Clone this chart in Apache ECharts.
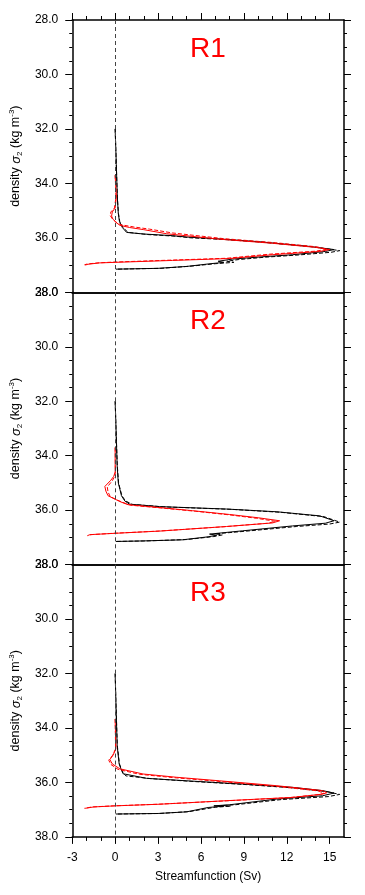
<!DOCTYPE html>
<html><head><meta charset="utf-8">
<script src="https://cdn.jsdelivr.net/npm/echarts@6/dist/echarts.min.js"></script>
<style>html,body{margin:0;padding:0;background:#fff}#c{width:365px;height:895px}</style>
</head><body><div id="c"></div>
<script>
// ---------- data ----------
const panelNames = ['R1', 'R2', 'R3'];
const xTickLabels = [-3, 0, 3, 6, 9, 12, 15];
const xMinorTicks = [-2, -1, 1, 2, 4, 5, 7, 8, 10, 11, 13, 14];
const yTickLabels = [28, 30, 32, 34, 36, 38];

// R1
const r1BlackSolidDens = [32.0, 33.3, 34.5, 35.1, 35.4, 35.62, 35.8, 35.86, 35.92, 35.97, 36.04, 36.14, 36.31, 36.43, 36.5, 36.62, 36.7, 36.78, 36.86, 36.9, 36.96, 37.05, 37.12, 37.15];
const r1BlackSolidSf   = [0.0, 0.08, 0.15, 0.22, 0.3, 0.5, 0.8, 2.0, 4.0, 5.0, 7.3, 10.0, 13.5, 15.3, 14.7, 12.4, 10.2, 8.2, 7.2, 7.6, 6.5, 5.0, 3.0, 0.05];
const r1BlackDashDens  = [32.0, 33.3, 34.5, 35.1, 35.4, 35.62, 35.8, 35.88, 35.94, 36.0, 36.06, 36.16, 36.33, 36.47, 36.53, 36.63, 36.71, 36.8, 36.86, 36.9, 36.95, 37.04, 37.12, 37.15];
const r1BlackDashSf    = [0.0, 0.08, 0.15, 0.23, 0.32, 0.55, 0.9, 2.3, 4.2, 5.3, 7.6, 10.3, 13.8, 15.7, 15.1, 12.8, 10.5, 8.6, 7.8, 8.3, 7.0, 5.3, 3.2, 0.05];
const r1RedSolidDens   = [33.7, 34.5, 34.9, 35.05, 35.2, 35.32, 35.45, 35.54, 35.62, 35.7, 35.85, 36.05, 36.2, 36.35, 36.43, 36.5, 36.62, 36.76, 36.83, 36.9, 36.92, 36.97, 37.0];
const r1RedSolidSf     = [0.0, 0.08, 0.0, -0.2, -0.25, -0.15, 0.1, 0.33, 1.0, 2.0, 3.6, 7.3, 11.0, 14.0, 15.0, 14.3, 11.0, 8.0, 4.0, 0.0, -1.1, -1.9, -2.1];
const r1RedDashDens    = [33.7, 34.5, 34.9, 35.05, 35.18, 35.3, 35.42, 35.52, 35.6, 35.68, 35.82, 36.03, 36.18, 36.33, 36.42, 36.49, 36.6, 36.75, 36.82, 36.89, 36.92, 36.96, 36.99];
const r1RedDashSf      = [0.0, 0.06, -0.05, -0.3, -0.35, -0.2, 0.05, 0.4, 1.3, 2.4, 4.0, 7.6, 11.2, 14.1, 14.8, 14.0, 10.8, 7.8, 3.8, -0.1, -1.2, -1.95, -2.15];

// R2
const r2BlackSolidDens = [32.0, 33.0, 34.37, 35.0, 35.23, 35.47, 35.66, 35.78, 35.87, 35.96, 36.06, 36.21, 36.39, 36.48, 36.58, 36.76, 36.88, 36.92, 36.98, 37.09, 37.13, 37.15];
const r2BlackSolidSf   = [0.0, 0.06, 0.14, 0.22, 0.33, 0.44, 0.67, 1.0, 3.1, 7.8, 11.3, 14.3, 15.3, 14.7, 12.4, 8.9, 6.6, 7.1, 6.5, 4.7, 2.0, 0.05];
const r2BlackDashDens  = [32.0, 33.0, 34.37, 35.0, 35.23, 35.47, 35.66, 35.79, 35.88, 35.97, 36.08, 36.24, 36.44, 36.51, 36.6, 36.77, 36.87, 36.91, 36.97, 37.08, 37.13, 37.15];
const r2BlackDashSf    = [0.0, 0.06, 0.15, 0.24, 0.35, 0.47, 0.72, 1.2, 3.4, 8.1, 11.6, 14.6, 15.7, 15.0, 12.7, 9.2, 7.0, 7.5, 6.9, 5.0, 2.2, 0.05];
const r2RedSolidDens   = [33.7, 34.6, 34.76, 34.9, 35.13, 35.3, 35.47, 35.6, 35.7, 35.8, 35.9, 36.02, 36.16, 36.28, 36.39, 36.47, 36.6, 36.77, 36.85, 36.9, 36.94];
const r2RedSolidSf     = [0.0, 0.0, -0.1, -0.3, -0.72, -0.65, -0.5, 0.0, 0.4, 0.9, 3.0, 5.4, 8.0, 10.0, 11.5, 11.0, 7.8, 3.1, 0.0, -1.77, -1.95];
const r2RedDashDens    = [33.7, 34.6, 34.78, 34.92, 35.15, 35.33, 35.5, 35.62, 35.72, 35.82, 35.92, 36.04, 36.18, 36.3, 36.41, 36.48, 36.61, 36.77, 36.85, 36.9, 36.94];
const r2RedDashSf      = [0.0, 0.02, -0.05, -0.2, -0.55, -0.5, -0.35, 0.1, 0.55, 1.1, 3.2, 5.6, 8.1, 9.9, 11.2, 10.7, 7.6, 3.0, -0.1, -1.7, -1.9];

// R3
const r3BlackSolidDens = [32.0, 33.0, 34.65, 35.32, 35.5, 35.68, 35.75, 35.85, 35.94, 36.06, 36.18, 36.3, 36.39, 36.49, 36.61, 36.82, 36.86, 36.87, 36.92, 37.08, 37.14, 37.16];
const r3BlackSolidSf   = [0.0, 0.05, 0.14, 0.28, 0.4, 0.55, 0.67, 2.2, 5.0, 8.9, 12.4, 14.5, 15.3, 14.5, 11.3, 8.0, 6.9, 7.6, 6.5, 5.0, 3.0, 0.05];
const r3BlackDashDens  = [32.0, 33.0, 34.65, 35.32, 35.5, 35.68, 35.76, 35.86, 35.96, 36.08, 36.21, 36.34, 36.44, 36.52, 36.63, 36.82, 36.85, 36.87, 36.91, 37.07, 37.14, 37.16];
const r3BlackDashSf    = [0.0, 0.05, 0.15, 0.3, 0.43, 0.6, 0.75, 2.5, 5.3, 9.2, 12.7, 14.8, 15.7, 14.9, 11.6, 8.4, 7.4, 8.1, 7.0, 5.2, 3.1, 0.05];
const r3RedSolidDens   = [33.67, 34.77, 35.0, 35.16, 35.32, 35.5, 35.69, 35.81, 35.94, 36.12, 36.3, 36.38, 36.43, 36.55, 36.67, 36.8, 36.86, 36.9, 36.95];
const r3RedSolidSf     = [0.0, 0.05, -0.15, -0.37, -0.2, 0.33, 1.95, 4.3, 7.3, 11.3, 14.5, 14.8, 14.5, 12.4, 7.8, 3.1, 0.0, -1.5, -2.1];
const r3RedDashDens    = [33.67, 34.77, 35.02, 35.18, 35.34, 35.52, 35.7, 35.82, 35.95, 36.13, 36.31, 36.4, 36.45, 36.56, 36.68, 36.8, 36.86, 36.9, 36.95];
const r3RedDashSf      = [0.0, 0.03, -0.2, -0.45, -0.3, 0.2, 1.7, 4.0, 7.0, 11.0, 14.2, 14.6, 14.2, 12.1, 7.6, 3.0, -0.1, -1.6, -2.15];

const panels = [
  {bs: [r1BlackSolidSf, r1BlackSolidDens], bd: [r1BlackDashSf, r1BlackDashDens], rs: [r1RedSolidSf, r1RedSolidDens], rd: [r1RedDashSf, r1RedDashDens]},
  {bs: [r2BlackSolidSf, r2BlackSolidDens], bd: [r2BlackDashSf, r2BlackDashDens], rs: [r2RedSolidSf, r2RedSolidDens], rd: [r2RedDashSf, r2RedDashDens]},
  {bs: [r3BlackSolidSf, r3BlackSolidDens], bd: [r3BlackDashSf, r3BlackDashDens], rs: [r3RedSolidSf, r3RedSolidDens], rd: [r3RedDashSf, r3RedDashDens]}
];

// ---------- layout ----------
const FONT = "'Liberation Sans', Arial, Helvetica, sans-serif";
const W = 365, LEFT = 72, RIGHT = 21, TOP = 20, PH = 272.3;
const zip = (a, b) => a.map((v, i) => [v, b[i]]);

const grid = [], xAxis = [], yAxis = [], series = [], graphic = [];
const lineAx = {show: true, onZero: false, lineStyle: {color: '#000', width: 1.5}};
const noLine = {show: false, onZero: false};
panelNames.forEach((name, i) => {
  grid.push({left: LEFT, right: RIGHT, top: TOP + i * PH, height: PH});
  const isLast = i === 2, isFirst = i === 0;
  const xMain = xAxis.length;
  xAxis.push({
    gridIndex: i, type: 'value', position: 'bottom', min: -3, max: 16, interval: 3,
    axisLine: lineAx,
    axisTick: {show: isLast, length: 7, customValues: xTickLabels, lineStyle: {color: '#000', width: 1}},
    minorTick: {show: false}, splitLine: {show: false},
    axisLabel: {show: isLast, customValues: xTickLabels, color: '#000', fontSize: 12, fontFamily: FONT, margin: 15},
    name: isLast ? 'Streamfunction (Sv)' : '', nameLocation: 'middle', nameGap: 34,
    nameTextStyle: {color: '#000', fontSize: 12, fontFamily: FONT}
  });
  if (isLast) {
    xAxis.push({gridIndex: i, type: 'value', position: 'bottom', min: -3, max: 16,
      axisLine: noLine, splitLine: {show: false}, axisLabel: {show: false},
      axisTick: {show: true, length: 4, customValues: xMinorTicks, lineStyle: {color: '#000', width: 1}}});
  }
  xAxis.push({
    gridIndex: i, type: 'value', position: 'top', min: -3, max: 16,
    axisLine: lineAx, splitLine: {show: false}, axisLabel: {show: false},
    axisTick: {show: isFirst, length: 7, customValues: xTickLabels, lineStyle: {color: '#000', width: 1}}
  });
  if (isFirst) {
    xAxis.push({gridIndex: i, type: 'value', position: 'top', min: -3, max: 16,
      axisLine: noLine, splitLine: {show: false}, axisLabel: {show: false},
      axisTick: {show: true, length: 4, customValues: xMinorTicks, lineStyle: {color: '#000', width: 1}}});
  }
  const yMain = yAxis.length;
  const yCommon = {
    gridIndex: i, type: 'value', inverse: true, min: 28, max: 38, interval: 2,
    axisLine: lineAx, splitLine: {show: false},
    axisTick: {show: true, length: 7, lineStyle: {color: '#000', width: 1}},
    minorTick: {show: true, splitNumber: 4, length: 3, lineStyle: {color: '#000', width: 1}}
  };
  yAxis.push(Object.assign({}, yCommon, {
    position: 'left',
    axisLabel: {color: '#000', fontSize: 12, fontFamily: FONT, margin: 14, customValues: yTickLabels, formatter: v => Number(v).toFixed(1)},
    name: 'density {s|σ}{sub|2} (kg m{sup|-3})', nameLocation: 'middle', nameGap: 40, nameRotate: 90,
    nameTextStyle: {color: '#000', fontSize: 12.5, fontFamily: FONT, lineHeight: 16,
      rich: {
        s: {fontStyle: 'italic', fontSize: 13, fontFamily: FONT, color: '#000', lineHeight: 16},
        sub: {fontSize: 8, fontFamily: FONT, color: '#000', verticalAlign: 'bottom', lineHeight: 10},
        sup: {fontSize: 8, fontFamily: FONT, color: '#000', verticalAlign: 'top', lineHeight: 10}
      }}
  }));
  yAxis.push(Object.assign({}, yCommon, {position: 'right', axisLabel: {show: false}}));

  const p = panels[i];
  const mk = (pair, color, dashed, withZero) => {
    const s = {
      type: 'line', xAxisIndex: xMain, yAxisIndex: yMain, data: zip(pair[0], pair[1]),
      showSymbol: false, symbol: 'none', silent: true, animation: false,
      lineStyle: {color: color, width: 1, type: dashed ? [4, 2] : 'solid'}
    };
    if (withZero) {
      s.markLine = {silent: true, symbol: ['none', 'none'], animation: false, label: {show: false},
        lineStyle: {color: '#444', width: 1, type: [4, 3]}, data: [{xAxis: 0}]};
    }
    return s;
  };
  series.push(mk(p.bs, '#000', false, true));
  series.push(mk(p.bd, '#000', true, false));
  series.push(mk(p.rs, '#ff0000', false, false));
  series.push(mk(p.rd, '#ff0000', true, false));

  graphic.push({type: 'text', x: LEFT + (W - LEFT - RIGHT) / 2, y: TOP + i * PH + 29,
    style: {text: name, fill: '#ff0000', fontSize: 28, fontFamily: FONT,
      align: 'center', verticalAlign: 'middle', textAlign: 'center', textVerticalAlign: 'middle'}});
});

const chart = echarts.init(document.getElementById('c'), null, {renderer: 'canvas'});
chart.setOption({animation: false, backgroundColor: '#fff', grid, xAxis, yAxis, series, graphic});
</script>
</body></html>
